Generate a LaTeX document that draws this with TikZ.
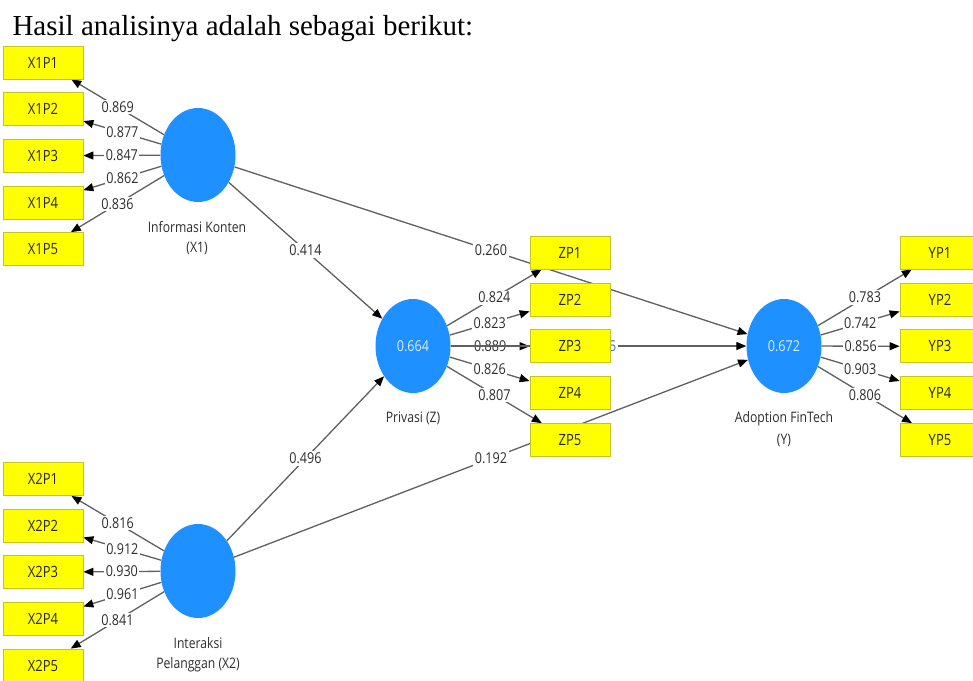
\documentclass[tikz,border=0pt]{standalone}
\usepackage{fontspec}
\setmainfont{Liberation Serif}
\newfontfamily\plsfont[FakeStretch=0.84]{Open Sans}
\usetikzlibrary{arrows.meta,shapes.geometric}
\definecolor{lvblue}{RGB}{30,144,255}
\definecolor{lvtext}{RGB}{225,236,250}
\definecolor{indyellow}{RGB}{255,255,0}
\definecolor{indedge}{RGB}{196,196,40}
\definecolor{pathgray}{RGB}{95,95,95}
\definecolor{lbltext}{RGB}{45,45,45}
\definecolor{hidblue}{RGB}{70,110,170}
\pgfdeclarelayer{lines}
\pgfsetlayers{lines,main}
\tikzset{
  latent/.style={ellipse, fill=lvblue, minimum width=75pt, minimum height=94pt,
    inner sep=0pt, text=lvtext, font=\plsfont\fontsize{15}{15}\selectfont},
  indbox/.style={rectangle, fill=indyellow, draw=indedge, line width=0.8pt,
    minimum width=80pt, minimum height=33pt, inner sep=0pt,
    font=\plsfont\fontsize{15.5}{15.5}\selectfont, text=black!85},
  pathline/.style={draw=pathgray, line width=1.3pt,
    -{Triangle[length=10pt,width=8pt,color=black]}},
  coef/.style={fill=white, inner sep=1.5pt, text=lbltext,
    font=\plsfont\fontsize{15}{15}\selectfont},
  lvname/.style={text=lbltext, align=center, font=\plsfont\fontsize{14.5}{20}\selectfont}
}
\def\loading#1#2#3{
  % 1: latent
  % 2: indicator
  % 3: loading
  \draw[pathline] (#1) -- node[coef] {#3} (#2);
}
\begin{document}
\begin{tikzpicture}[x=1pt,y=-1pt]
    \useasboundingbox (0,0) rectangle (973,680);
    \node[anchor=base west, font=\fontsize{29}{29}\selectfont] (title) at (9,35) {Hasil analisinya adalah sebagai berikut:};

    % latent variables
    \node[latent] (X1) at (198,155) {};
    \node[latent] (X2) at (198,571) {};
    \node[latent] (Z) at (413,346) {0.664};
    \node[latent] (Y) at (784,346) {0.672};
    \node[lvname] (nameX1) at (197,238) {Informasi Konten\\(X1)};
    \node[lvname] (nameX2) at (198,655) {Interaksi\\Pelanggan (X2)};
    \node[lvname] (nameZ) at (413,418) {Privasi (Z)};
    \node[lvname, font=\plsfont\fontsize{14.5}{22}\selectfont] (nameY) at (784,429) {Adoption FinTech\\(Y)};

    % indicators
    \node[indbox] (X1P1) at (43,62.5) {X1P1};
    \node[indbox] (X1P2) at (43,109.2) {X1P2};
    \node[indbox] (X1P3) at (43,155.8) {X1P3};
    \node[indbox] (X1P4) at (43,202.5) {X1P4};
    \node[indbox] (X1P5) at (43,249.1) {X1P5};
    \node[indbox] (X2P1) at (43,479) {X2P1};
    \node[indbox] (X2P2) at (43,525.6) {X2P2};
    \node[indbox] (X2P3) at (43,572.2) {X2P3};
    \node[indbox] (X2P4) at (43,618.9) {X2P4};
    \node[indbox] (X2P5) at (43,665.5) {X2P5};
    \node[indbox] (ZP1) at (570,252.5) {ZP1};
    \node[indbox] (ZP2) at (570,299.4) {ZP2};
    \node[indbox] (ZP3) at (570,346.3) {ZP3};
    \node[indbox] (ZP4) at (570,393.2) {ZP4};
    \node[indbox] (ZP5) at (570,440.1) {ZP5};
    \node[indbox] (YP1) at (940,252.5) {YP1};
    \node[indbox] (YP2) at (940,299.4) {YP2};
    \node[indbox] (YP3) at (940,346.3) {YP3};
    \node[indbox] (YP4) at (940,393.2) {YP4};
    \node[indbox] (YP5) at (940,440.1) {YP5};

    \begin{pgfonlayer}{lines}
    \loading{X1}{X1P1}{0.869}
    \loading{X1}{X1P2}{0.877}
    \loading{X1}{X1P3}{0.847}
    \loading{X1}{X1P4}{0.862}
    \loading{X1}{X1P5}{0.836}
    \loading{X2}{X2P1}{0.816}
    \loading{X2}{X2P2}{0.912}
    \loading{X2}{X2P3}{0.930}
    \loading{X2}{X2P4}{0.961}
    \loading{X2}{X2P5}{0.841}
    \loading{Z}{ZP1}{0.824}
    \loading{Z}{ZP2}{0.823}
    \loading{Z}{ZP3}{0.889}
    \loading{Z}{ZP4}{0.826}
    \loading{Z}{ZP5}{0.807}
    \loading{Y}{YP1}{0.783}
    \loading{Y}{YP2}{0.742}
    \loading{Y}{YP3}{0.856}
    \loading{Y}{YP4}{0.903}
    \loading{Y}{YP5}{0.806}
    % structural paths
    \draw[pathline] (X1) -- node[coef] {0.414} (Z);
    \draw[pathline] (X2) -- node[coef] {0.496} (Z);
    \draw[pathline] (X1) -- node[coef] {0.260} (Y);
    \draw[pathline] (X2) -- node[coef] {0.192} (Y);
    \draw[pathline] (Z) -- node[coef, pos=0.548, text=hidblue] {5} (Y);
    \end{pgfonlayer}
\end{tikzpicture}
\end{document}
